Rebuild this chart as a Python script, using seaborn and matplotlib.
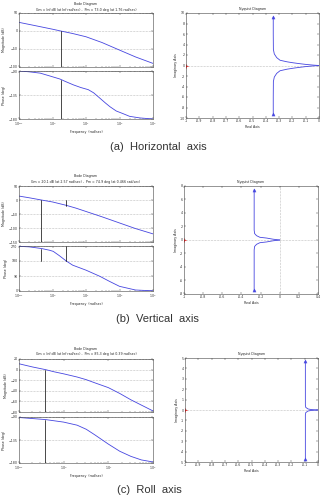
import numpy as np
import pandas as pd
import seaborn as sns
import matplotlib.pyplot as plt
from matplotlib.ticker import FixedLocator, FixedFormatter, LogLocator, NullFormatter

# ---- data ----
# (a) horizontal axis
h_freq_mag = [0.1, 0.3, 1, 1.76, 4, 10, 30, 100, 300, 1000]
h_mag = [24, 15, 5, 0, -7, -16, -32, -53, -72, -90]
h_freq_ph = [0.1, 0.2, 0.43, 0.8, 1.66, 2.5, 4.2, 7, 11.7, 17, 26, 38, 52, 80, 128, 200, 407, 1000]
h_phase = [-90, -91.5, -94, -99, -105, -110, -116, -121, -125, -131, -141, -150, -157, -165, -170, -175, -178, -180]
h_nyq_re = [-0.344, -0.344, -0.343, -0.336, -0.318, -0.293, -0.24, -0.193, -0.14, -0.093, -0.04, 0.0]
h_nyq_im = [9.27, 6.0, 3.05, 2.2, 1.5, 1.0, 0.7, 0.51, 0.33, 0.19, 0.07, 0.0]
h_nyq_im_lo = [-9.27, -6.0, -3.05, -2.2, -1.5, -1.0, -0.7, -0.51, -0.33, -0.19, -0.07, 0.0]
h_title = "Gm = Inf dB (at Inf rad/sec) ,  Pm = 73.0 deg (at 1.76 rad/sec)"
h_wcp, h_pm_phase = 1.76, -107

# (b) vertical axis
v_freq_mag = [0.1, 0.2, 0.466, 1, 2.57, 5, 10, 30, 100, 300, 1000]
v_mag = [14, 8, 0, -7, -19, -29, -41, -60, -82, -102, -121]
v_freq_ph = [0.1, 0.2, 0.466, 0.8, 1.05, 1.6, 2.57, 4, 10, 26, 50, 100, 300, 1000]
v_phase = [268, 265, 255, 245, 238, 212, 180, 155, 125, 88, 58, 28, 6, 1]
v_nyq_re = [-0.267, -0.267, -0.267, -0.262, -0.242, -0.207, -0.138, -0.07, 0.0]
v_nyq_im = [7.47, 4.0, 1.47, 0.95, 0.64, 0.40, 0.29, 0.12, 0.0]
v_nyq_im_lo = [-7.47, -4.0, -1.47, -0.95, -0.64, -0.40, -0.29, -0.12, 0.0]
v_title = "Gm = 20.1 dB (at 2.57 rad/sec) ,  Pm = 74.9 deg (at 0.466 rad/sec)"
v_wcp, v_pm_phase = 0.466, 255
v_wcg, v_gm = 2.57, -20

# (c) roll axis
r_freq_mag = [0.1, 0.2, 0.39, 0.6, 1, 2, 3.2, 5, 10, 18, 32, 55, 100]
r_mag = [11, 5, 0, -4, -8, -14, -19, -25, -34, -45, -57, -67, -78]
r_freq_ph = [0.1, 0.39, 1, 2, 3.2, 5, 10, 18, 32, 55, 100]
r_phase = [-91, -95, -100, -106, -114, -125, -143, -157, -167, -174, -178]
r_nyq_re = [-0.095, -0.095, -0.095, -0.092, -0.075, -0.05, -0.02, 0.0]
r_nyq_im = [4.7, 2.5, 0.48, 0.25, 0.1, 0.04, 0.01, 0.0]
r_nyq_im_lo = [-4.7, -2.5, -0.48, -0.25, -0.1, -0.04, -0.01, 0.0]
r_title = "Gm = Inf dB (at Inf rad/sec) ,  Pm = 85.3 deg (at 0.39 rad/sec)"
r_wcp, r_pm_phase = 0.39, -95

captions = ["(a)  Horizontal  axis", "(b)  Vertical  axis", "(c)  Roll  axis"]

# ---- style ----
sns.set_style("ticks")
plt.rcParams["font.family"] = ["DejaVu Sans"]
W, H = 329, 501
BLUE = "#4646e0"
FS = 2.3
fig = plt.figure(figsize=(W / 100, H / 100), dpi=100)


def box(x0, y0, x1, y1):
    return [x0 / W, 1 - y1 / H, (x1 - x0) / W, (y1 - y0) / H]


def matlab_axes(ax):
    ax.tick_params(direction="in", length=1.3, width=0.3, top=True, right=True,
                   labelsize=FS, pad=1, colors="#333333")
    ax.tick_params(which="minor", direction="in", length=0.8, width=0.25, top=True, right=True)
    for s in ax.spines.values():
        s.set_linewidth(0.4)
        s.set_color("#444444")


def curve(ax, x, y):
    sns.lineplot(x=x, y=y, ax=ax, color=BLUE, linewidth=0.6, estimator=None, sort=False)


def bode(rect_m, rect_p, fm, mag, fp, ph, xlim, mticks, pticks, title, ty):
    ax_m = fig.add_axes(box(*rect_m))
    ax_p = fig.add_axes(box(*rect_p))
    for ax, x, y, ticks in [(ax_m, fm, mag, mticks), (ax_p, fp, ph, pticks)]:
        curve(ax, x, y)
        ax.set_xscale("log")
        ax.set_xlim(*xlim)
        ax.set_ylim(min(ticks), max(ticks))
        ax.yaxis.set_major_locator(FixedLocator(ticks))
        ax.xaxis.set_minor_locator(LogLocator(subs=np.arange(2, 10)))
        ax.xaxis.set_minor_formatter(NullFormatter())
        ax.grid(axis="y", linestyle=":", color="#888888", linewidth=0.4)
        matlab_axes(ax)
    ax_m.tick_params(labelbottom=False)
    ax_m.set_ylabel("Magnitude (dB)", fontsize=FS, labelpad=2)
    ax_p.set_ylabel("Phase (deg)", fontsize=FS, labelpad=2)
    ax_p.set_xlabel("Frequency  (rad/sec)", fontsize=FS, labelpad=1.5)
    cx = (rect_m[0] + rect_m[2]) / 2 / W
    fig.text(cx, 1 - ty / H, "Bode Diagram", fontsize=FS, ha="center", va="center")
    fig.text(cx, 1 - (ty + 5.5) / H, title, fontsize=FS, ha="center", va="center")
    return ax_m, ax_p


def nyquist(rect, re, im, im_lo, xticks, yticks, xfmt, zero_vline=False):
    ax = fig.add_axes(box(*rect))
    ax.axhline(0, linestyle=":", color="#888888", linewidth=0.4)
    if zero_vline:
        ax.axvline(0, linestyle=":", color="#888888", linewidth=0.4)
    curve(ax, re, im)
    curve(ax, re, im_lo)
    sns.scatterplot(x=[re[0], re[0]], y=[im[0], im_lo[0]], ax=ax, marker="^",
                    color=BLUE, s=5, edgecolor=BLUE, linewidth=0.3)
    ax.plot([-1], [0], "+", color="red", ms=2.5, mew=0.5)
    ax.set_xlim(min(xticks), max(xticks))
    ax.set_ylim(min(yticks), max(yticks))
    ax.xaxis.set_major_locator(FixedLocator(xticks))
    ax.xaxis.set_major_formatter(FixedFormatter([xfmt(v) for v in xticks]))
    ax.yaxis.set_major_locator(FixedLocator(yticks))
    ax.yaxis.set_major_formatter(FixedFormatter([f"{v:g}" for v in yticks]))
    ax.set_title("Nyquist Diagram", fontsize=FS, pad=2)
    ax.set_xlabel("Real Axis", fontsize=FS, labelpad=1.5)
    ax.set_ylabel("Imaginary Axis", fontsize=FS, labelpad=1)
    matlab_axes(ax)
    return ax


def fmt1(v):
    return f"{v:.1f}".replace("-0.0", "0").replace("-1.0", "-1").replace("0.0", "0")


# ---- row (a) ----
am, ap = bode((19, 13, 153, 67), (19, 71, 153, 119), h_freq_mag, h_mag, h_freq_ph, h_phase,
              (0.1, 1000), [-100, -50, 0, 50], [-180, -135, -90], h_title, 4)
am.plot([h_wcp, h_wcp], [0, -100], color="black", linewidth=0.5)
ap.plot([h_wcp, h_wcp], [-180, h_pm_phase], color="black", linewidth=0.5)
nyquist((186, 13, 319, 118), h_nyq_re, h_nyq_im, h_nyq_im_lo,
        [round(-1 + 0.1 * i, 1) for i in range(11)], list(range(-10, 11, 2)), fmt1)

# ---- row (b) ----
bm, bp = bode((19, 186, 153, 242), (19, 246, 153, 291), v_freq_mag, v_mag, v_freq_ph, v_phase,
              (0.1, 1000), [-150, -100, -50, 0, 50], [0, 90, 180, 270], v_title, 176)
bm.plot([v_wcp, v_wcp], [0, -150], color="black", linewidth=0.5)
bm.plot([v_wcg, v_wcg], [0, v_gm], color="black", linewidth=0.5)
bp.plot([v_wcp, v_wcp], [180, v_pm_phase], color="black", linewidth=0.5)
bp.plot([v_wcg, v_wcg], [180, 270], color="black", linewidth=0.5)
nyquist((184, 186, 318, 294), v_nyq_re, v_nyq_im, v_nyq_im_lo,
        [round(-1 + 0.2 * i, 1) for i in range(8)], list(range(-8, 9, 2)), fmt1, zero_vline=True)

# ---- row (c) ----
cm, cp = bode((19, 359, 153, 412), (19, 417, 153, 463), r_freq_mag, r_mag, r_freq_ph, r_phase,
              (0.1, 100), [-80, -60, -40, -20, 0, 20], [-180, -135, -90], r_title, 349)
cm.plot([r_wcp, r_wcp], [0, -80], color="black", linewidth=0.5)
cp.plot([r_wcp, r_wcp], [-180, r_pm_phase], color="black", linewidth=0.5)
nyquist((185, 358, 318, 462), r_nyq_re, r_nyq_im, r_nyq_im_lo,
        [round(-1 + 0.1 * i, 1) for i in range(11)], list(range(-5, 6)), fmt1)

# ---- captions ----
for txt, x, y in zip(captions, [110, 116, 117], [147, 319, 490]):
    fig.text(x / W, 1 - y / H, txt, fontsize=8, ha="left", va="center",
             color="#333333", family=["Liberation Sans", "DejaVu Sans"])

fig.savefig("out.png", dpi=100)
